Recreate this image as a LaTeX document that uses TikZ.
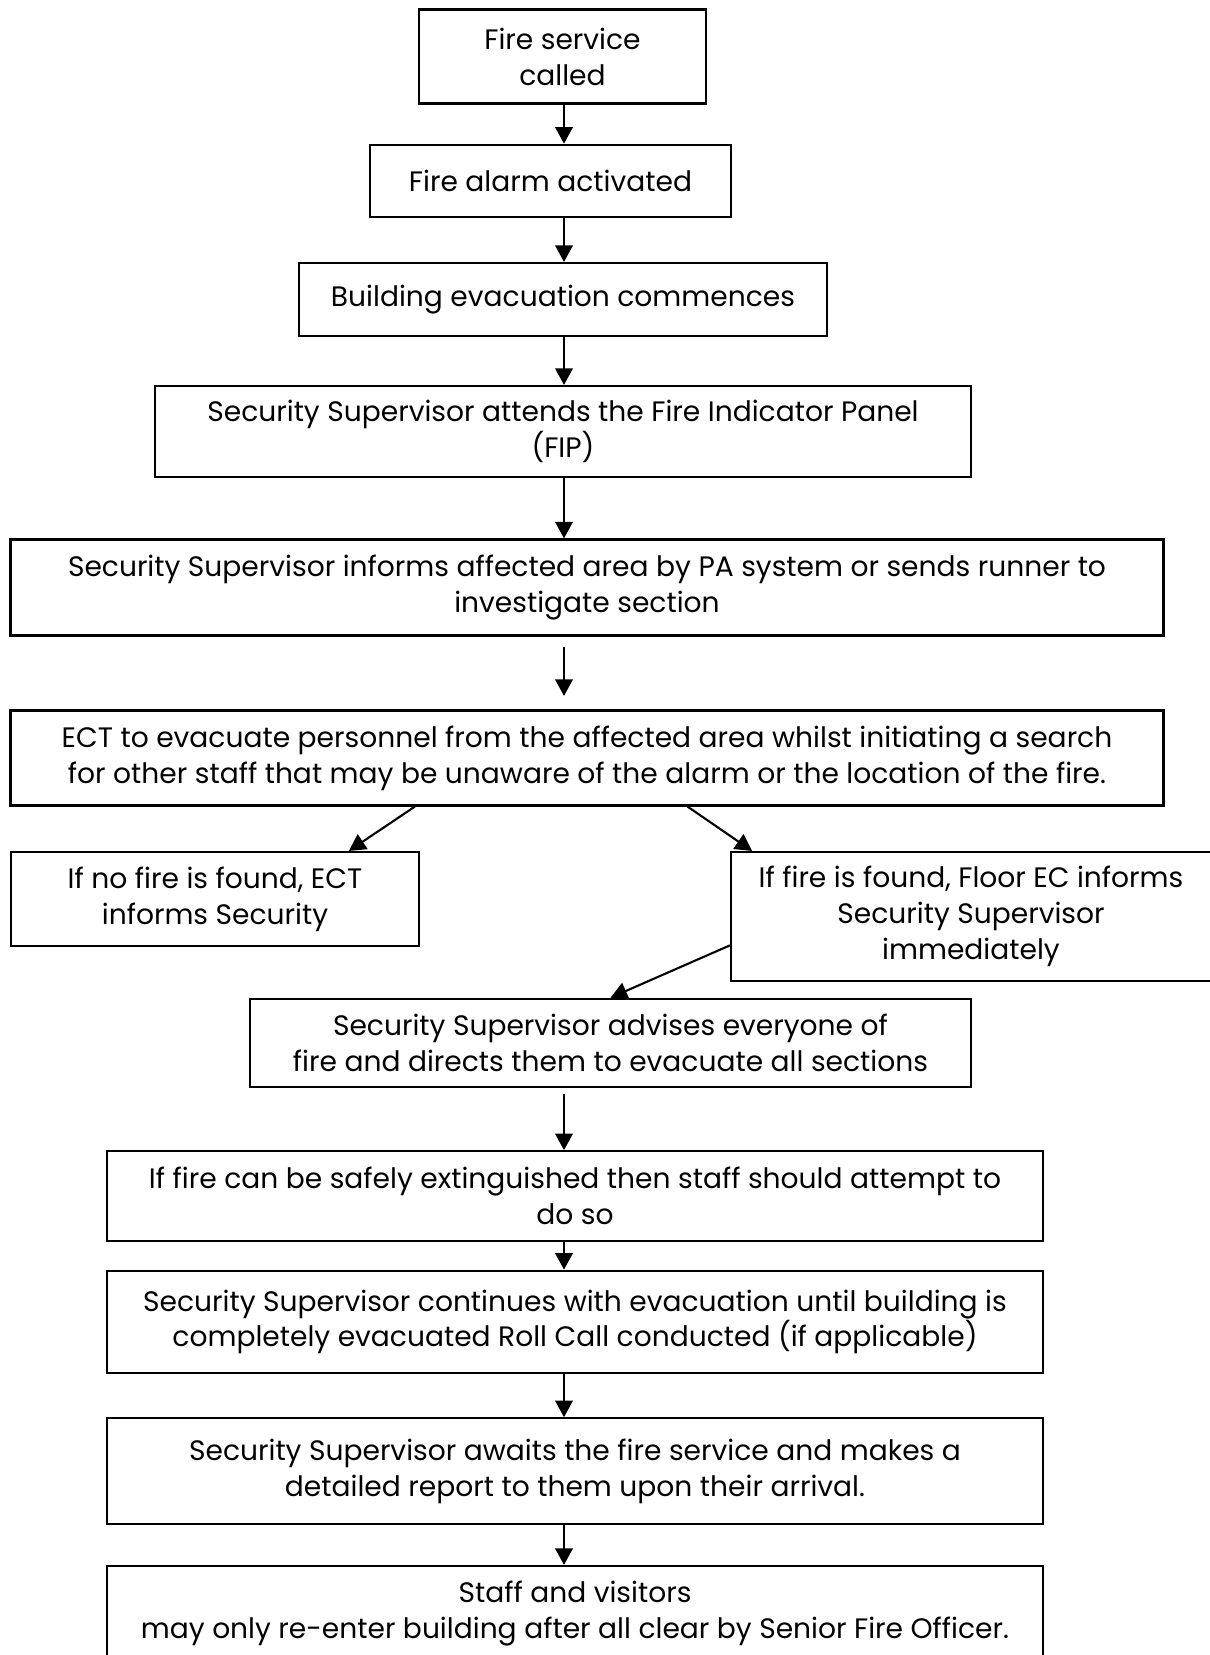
\documentclass[tikz,border=0pt]{standalone}
\usepackage{fontspec}
\setmainfont{Poppins}
\usepackage{xcolor}
\usepackage{tikz}
\usetikzlibrary{positioning, arrows.meta, calc}
\definecolor{boxline}{HTML}{000000}

\tikzset{
  flowbox/.style={draw=boxline, line width=1.2pt, align=center, inner sep=0pt,
                  font=\fontsize{16}{20.4}\selectfont},
  flowarrow/.style={draw=boxline, line width=1.2pt,
                    -{Triangle[length=9.5pt, width=10pt]}},
}

\begin{document}
\begin{tikzpicture}
  \useasboundingbox (0,0) rectangle (24.2,-33.1);
  \coordinate (spine) at (11.28,0);

  \node[flowbox, minimum width=5.74cm, minimum height=1.88cm] (fireservice) at (11.25,-1.13)
    {Fire service\\called};
  \node[flowbox, minimum width=7.22cm, minimum height=1.45cm] (alarm) at (11.01,-3.62)
    {Fire alarm activated};
  \node[flowbox, minimum width=10.56cm, minimum height=1.46cm] (evacstart) at (11.26,-5.99)
    {Building evacuation commences};
  \node[flowbox, minimum width=16.32cm, minimum height=1.82cm] (fipcheck) at (11.26,-8.63)
    {Security Supervisor attends the Fire Indicator Panel\\(FIP)};
  \node[flowbox, minimum width=23.06cm, minimum height=1.92cm] (painform) at (11.74,-11.75)
    {Security Supervisor informs affected area by PA system or sends runner to\\investigate section};
  \node[flowbox, minimum width=23.06cm, minimum height=1.90cm] (ectsearch) at (11.74,-15.16)
    {ECT to evacuate personnel from the affected area whilst initiating a search\\for other staff that may be unaware of the alarm or the location of the fire.};
  \node[flowbox, minimum width=8.17cm, minimum height=1.88cm] (nofire) at (4.30,-17.98)
    {If no fire is found, ECT\\informs Security};
  \node[flowbox, minimum width=9.60cm, minimum height=2.58cm] (firefound) at (19.42,-18.33)
    {If fire is found, Floor EC informs\\Security Supervisor\\immediately};
  \node[flowbox, minimum width=14.42cm, minimum height=1.77cm] (advise) at (12.21,-20.86)
    {Security Supervisor advises everyone of\\fire and directs them to evacuate all sections};
  \node[flowbox, minimum width=18.73cm, minimum height=1.79cm] (extinguish) at (11.50,-23.92)
    {If fire can be safely extinguished then staff should attempt to\\do so};
  \node[flowbox, minimum width=18.73cm, minimum height=2.05cm] (rollcall) at (11.50,-26.44)
    {Security Supervisor continues with evacuation until building is\\completely evacuated Roll Call conducted (if applicable)};
  \node[flowbox, minimum width=18.73cm, minimum height=2.11cm] (report) at (11.50,-29.42)
    {Security Supervisor awaits the fire service and makes a\\detailed report to them upon their arrival.};
  \node[flowbox, minimum width=18.73cm, minimum height=1.90cm] (reenter) at (11.50,-32.27)
    {Staff and visitors\\may only re-enter building after all clear by Senior Fire Officer.};

  \foreach \from/\to in {fireservice/alarm, alarm/evacstart, evacstart/fipcheck,
                         fipcheck/painform, extinguish/rollcall, rollcall/report, report/reenter}
    \draw[flowarrow] (\from.south -| spine) -- (\to.north -| spine);
  \draw[flowarrow, shorten <=0.2cm, shorten >=0.27cm] (painform.south -| spine) -- (ectsearch.north -| spine);
  \draw[flowarrow, shorten <=0.11cm] (advise.south -| spine) -- (extinguish.north -| spine);

  \draw[flowarrow] ($(ectsearch.south west)!0.351!(ectsearch.south east)$)
    -- ($(nofire.north west)!0.826!(nofire.north east)$);
  \draw[flowarrow] ($(ectsearch.south west)!0.587!(ectsearch.south east)$)
    -- ($(firefound.north west)!0.046!(firefound.north east)$);
  \draw[flowarrow] ($(firefound.north west)!0.72!(firefound.south west)$) -- (advise.north);
\end{tikzpicture}
\end{document}
